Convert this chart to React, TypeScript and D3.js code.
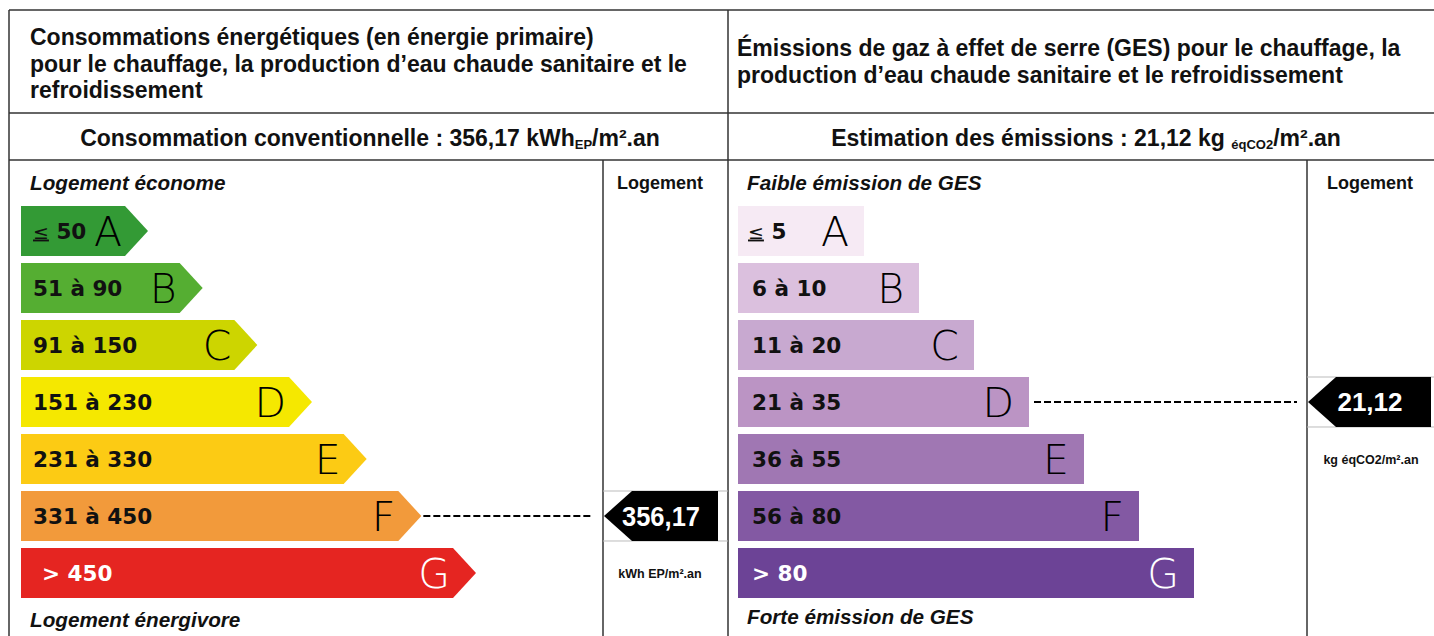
import React from 'react';
import * as d3 from 'd3';

// energy label (DPE)
const classes = ['A', 'B', 'C', 'D', 'E', 'F', 'G'];
const energyRanges = ['50', '51 à 90', '91 à 150', '151 à 230', '231 à 330', '331 à 450', '> 450'];
const energyColors = ['#339a35', '#55ae32', '#cdd500', '#f5e800', '#fccb14', '#f29a3b', '#e52521'];
const energyThresholds = [51, 91, 151, 231, 331, 451];
const energyValue = 356.17;

// GES label
const gesRanges = ['5', '6 à 10', '11 à 20', '21 à 35', '36 à 55', '56 à 80', '> 80'];
const gesColors = ['#f6eaf4', '#dbc0de', '#c8a9d0', '#bb94c4', '#a077b3', '#8359a3', '#6c4396'];
const gesThresholds = [6, 11, 21, 36, 56, 81];
const gesValue = 21.12;

const W = 1434;
const H = 636;
const BORDER = '#333';
const SANS = '"Liberation Sans", Arial, sans-serif';
const VERD = '"DejaVu Sans", Verdana, sans-serif';

const y = d3.scaleBand<string>().domain(classes).range([206, 598]).paddingInner(0.123).paddingOuter(0);
const rank = d3.scaleLinear().domain([0, 6]);
const energyLen = rank.copy().range([127, 455]);
const gesLen = rank.copy().range([126, 456]);
const energyClass = d3.scaleThreshold<number, string>().domain(energyThresholds).range(classes);
const gesClass = d3.scaleThreshold<number, string>().domain(gesThresholds).range(classes);
const fmt = (v: number) => d3.format('.2f')(v).replace('.', ',');

const HEAD = 23;

function arrowPath(x0: number, y0: number, w: number, h: number) {
  const p = d3.path();
  p.moveTo(x0, y0);
  p.lineTo(x0 + w - HEAD, y0);
  p.lineTo(x0 + w, y0 + h / 2);
  p.lineTo(x0 + w - HEAD, y0 + h);
  p.lineTo(x0, y0 + h);
  p.closePath();
  return p.toString();
}

function pointer(xTip: number, xEnd: number, y0: number, h: number) {
  const p = d3.path();
  p.moveTo(xTip, y0 + h / 2);
  p.lineTo(xTip + 28, y0);
  p.lineTo(xEnd, y0);
  p.lineTo(xEnd, y0 + h);
  p.lineTo(xTip + 28, y0 + h);
  p.closePath();
  return p.toString();
}

function RangeLabel({ x, yy, text, white }: { x: number; yy: number; text: string; white: boolean }) {
  const first = text === '50' || text === '5';
  return (
    <text x={x} y={yy} dy="0.35em" fontFamily={VERD} fontWeight="bold" fontSize={21.5} fill={white ? '#fff' : '#111'}>
      {first ? <tspan fontWeight="normal" fontSize={19} textDecoration="underline">≤</tspan> : null}
      {first ? ' ' + text : text}
    </text>
  );
}

export default function App() {
  const bh = y.bandwidth();
  const eCls = energyClass(energyValue);
  const gCls = gesClass(gesValue);
  const eY = y(eCls)!;
  const gY = y(gCls)!;
  const eIdx = classes.indexOf(eCls);
  const gIdx = classes.indexOf(gCls);

  return (
    <svg width={W} height={H} style={{ position: 'absolute', left: 0, top: 0, background: '#fff' }}>
      {/* table frame */}
      <g stroke={BORDER} strokeWidth={1.5} fill="none">
        <line x1={9} y1={10} x2={W} y2={10} />
        <line x1={9} y1={10} x2={9} y2={H} />
        <line x1={728} y1={10} x2={728} y2={H} />
        <line x1={9} y1={113} x2={W} y2={113} />
        <line x1={9} y1={160} x2={W} y2={160} />
        <line x1={603} y1={160} x2={603} y2={H} />
        <line x1={1307} y1={160} x2={1307} y2={H} />
      </g>

      {/* headers */}
      <g fontFamily={SANS} fontWeight="bold" fontSize={23} fill="#111">
        <text x={30} y={45}>Consommations énergétiques (en énergie primaire)</text>
        <text x={30} y={72}>pour le chauffage, la production d’eau chaude sanitaire et le</text>
        <text x={30} y={98}>refroidissement</text>
        <text x={737} y={56}>Émissions de gaz à effet de serre (GES) pour le chauffage, la</text>
        <text x={737} y={83}>production d’eau chaude sanitaire et le refroidissement</text>
        <text x={370} y={146} textAnchor="middle">
          Consommation conventionnelle : {fmt(energyValue)} kWh<tspan fontSize={13} dy={3}>EP</tspan>
          <tspan dy={-3}>/m².an</tspan>
        </text>
        <text x={1086} y={146} textAnchor="middle">
          Estimation des émissions : {fmt(gesValue)} kg <tspan fontSize={13} dy={3}>éqCO2</tspan>
          <tspan dy={-3}>/m².an</tspan>
        </text>
        <text x={660} y={189} textAnchor="middle" fontSize={18}>Logement</text>
        <text x={1370} y={189} textAnchor="middle" fontSize={18}>Logement</text>
      </g>

      <g fontFamily={SANS} fontWeight="bold" fontStyle="italic" fontSize={20.7} fill="#111">
        <text x={30} y={190}>Logement économe</text>
        <text x={30} y={627}>Logement énergivore</text>
        <text x={747} y={190}>Faible émission de GES</text>
        <text x={747} y={624}>Forte émission de GES</text>
      </g>

      {/* energy arrows */}
      {classes.map((c, i) => {
        const yy = y(c)!;
        const w = energyLen(i);
        const white = c === 'G';
        return (
          <g key={'e' + c}>
            <path d={arrowPath(21, yy, w, bh)} fill={energyColors[i]} />
            <RangeLabel x={c === 'G' ? 42 : 33} yy={yy + bh / 2} text={energyRanges[i]} white={white} />
            <text x={21 + w - HEAD - 3} y={yy + bh / 2} dy="0.36em" textAnchor="end" fontFamily={VERD}
              fontWeight={200} fontSize={41} fill={white ? '#fff' : '#000'}>{c}</text>
          </g>
        );
      })}

      {/* GES bars */}
      {classes.map((c, i) => {
        const yy = y(c)!;
        const w = gesLen(i);
        const white = c === 'G';
        return (
          <g key={'g' + c}>
            <rect x={738} y={yy} width={w} height={bh} fill={gesColors[i]} />
            <RangeLabel x={c === 'A' ? 748 : 752} yy={yy + bh / 2} text={gesRanges[i]} white={white} />
            <text x={738 + w - 15} y={yy + bh / 2} dy="0.36em" textAnchor="end" fontFamily={VERD}
              fontWeight={200} fontSize={41} fill={white ? '#fff' : '#000'}>{c}</text>
          </g>
        );
      })}

      {/* energy indicator */}
      <line x1={21 + energyLen(eIdx) + 2} x2={593} y1={eY + bh / 2} y2={eY + bh / 2}
        stroke="#000" strokeWidth={2} strokeDasharray="7,3" />
      <g stroke="#bbb" strokeWidth={1}>
        <line x1={603} x2={728} y1={eY} y2={eY} />
        <line x1={603} x2={728} y1={eY + bh} y2={eY + bh} />
      </g>
      <path d={pointer(604, 718, eY, bh)} fill="#000" />
      <text x={661} y={eY + bh / 2} dy="0.36em" textAnchor="middle" fontFamily={SANS} fontWeight="bold"
        fontSize={27} textLength={78} lengthAdjust="spacingAndGlyphs" fill="#fff">{fmt(energyValue)}</text>
      <text x={660} y={578} textAnchor="middle" fontFamily={SANS} fontWeight="bold" fontSize={12.5} fill="#111">kWh EP/m².an</text>

      {/* GES indicator */}
      <line x1={738 + gesLen(gIdx) + 5} x2={1297} y1={gY + bh / 2} y2={gY + bh / 2}
        stroke="#000" strokeWidth={2} strokeDasharray="7,3" />
      <g stroke="#bbb" strokeWidth={1}>
        <line x1={1307} x2={W} y1={gY} y2={gY} />
        <line x1={1307} x2={W} y1={gY + bh} y2={gY + bh} />
      </g>
      <path d={pointer(1308, 1431, gY, bh)} fill="#000" />
      <text x={1370} y={gY + bh / 2} dy="0.36em" textAnchor="middle" fontFamily={SANS} fontWeight="bold"
        fontSize={26} fill="#fff">{fmt(gesValue)}</text>
      <text x={1371} y={464} textAnchor="middle" fontFamily={SANS} fontWeight="bold" fontSize={12.5} fill="#111">kg éqCO2/m².an</text>
    </svg>
  );
}
